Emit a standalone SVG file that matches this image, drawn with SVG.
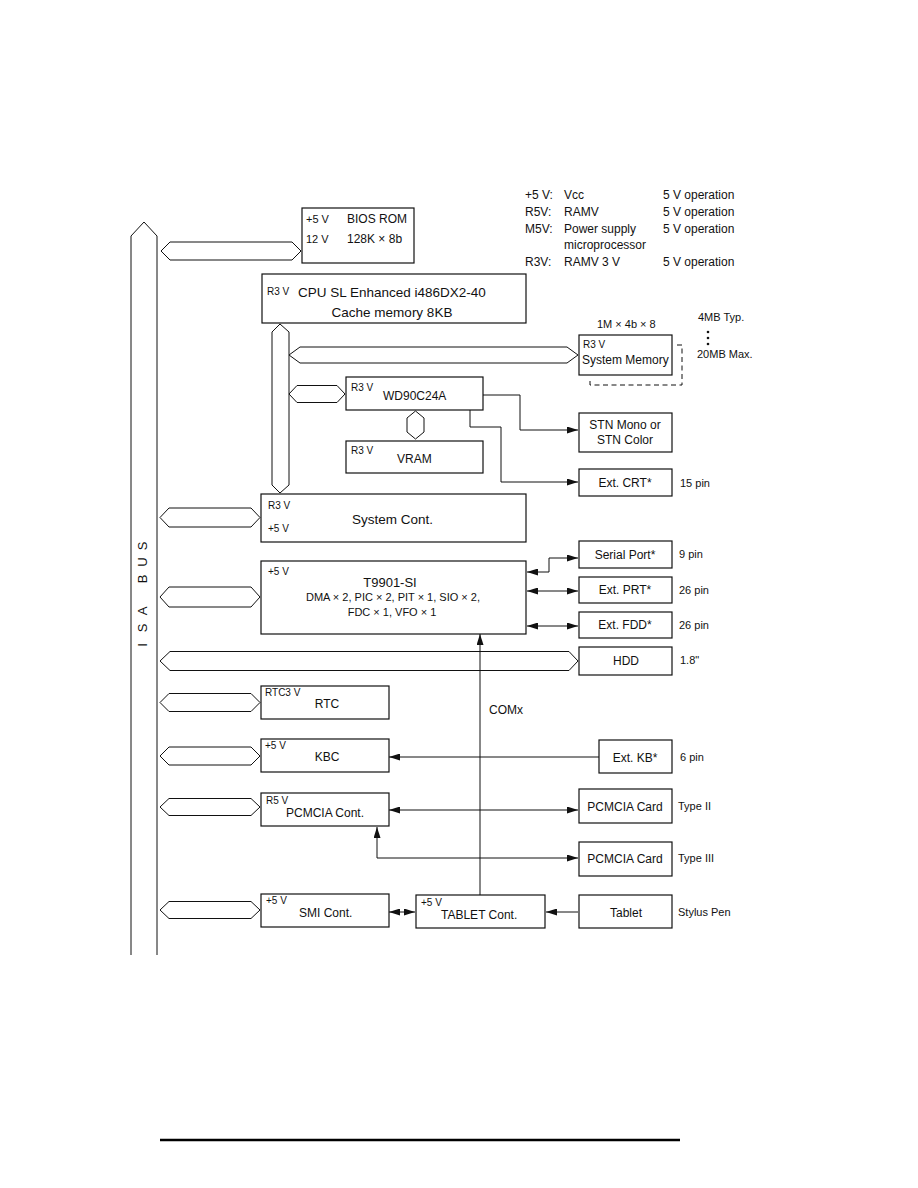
<svg xmlns="http://www.w3.org/2000/svg" width="918" height="1188" viewBox="0 0 918 1188">
<style>
text{font-family:"Liberation Sans",Arial,sans-serif;fill:#111}
.box{fill:#fff;stroke:#111;stroke-width:1.2}
.bus{fill:#fff;stroke:#111;stroke-width:1}
.ln{fill:none;stroke:#111;stroke-width:1}
.m{font-size:12px}
.s{font-size:10px}
.l{font-size:11px}
.c{text-anchor:middle}
</style>
<defs>
<marker id="ah" markerUnits="userSpaceOnUse" markerWidth="11" markerHeight="7" refX="11" refY="3.5" orient="auto-start-reverse">
<path d="M0,0 L11,3.5 L0,7 z" fill="#111"/>
</marker>
</defs>
<rect width="918" height="1188" fill="#fff"/>

<g id="isa-bus">
<path class="ln" d="M131,955 L131,236 L144,222 L157,236 L157,955"/>
<text class="c" style="font-size:13px" transform="rotate(-90)" x="-645 -628 -611 -579 -562 -546" y="147">ISABUS</text>
</g>

<g id="legend" class="m">
<text x="525" y="199">+5 V:</text><text x="564" y="199">Vcc</text><text x="663" y="199">5 V operation</text>
<text x="525" y="216">R5V:</text><text x="564" y="216">RAMV</text><text x="663" y="216">5 V operation</text>
<text x="525" y="233">M5V:</text><text x="564" y="233">Power supply</text><text x="663" y="233">5 V operation</text>
<text x="564" y="249">microprocessor</text>
<text x="525" y="266">R3V:</text><text x="564" y="266">RAMV 3 V</text><text x="663" y="266">5 V operation</text>
</g>

<g id="connectors">
<polygon class="bus" points="161,251 170,242 292,242 301,251 292,260 170,260"/>
<polygon class="bus" points="280,324 289,332 289,485 280,493 272,485 272,332"/>
<polygon class="bus" points="289,355 300,347 567,347 578,355 567,363 300,363"/>
<polygon class="bus" points="289,394 297,385.5 337,385.5 345,394 337,402.5 297,402.5"/>
<polygon class="bus" points="415.5,411 424,418 424,432 415.5,439 407,432 407,418"/>
<polygon class="bus" points="160,517.5 169,508 251,508 260,517.5 251,527 169,527"/>
<polygon class="bus" points="160,597 169,587 251,587 260,597 251,607 169,607"/>
<polygon class="bus" points="160,661 170,651.5 569,651.5 578,661 569,670.5 170,670.5"/>
<polygon class="bus" points="160,702.5 169,693.5 251,693.5 260,702.5 251,711.5 169,711.5"/>
<polygon class="bus" points="160,756 169,747 251,747 260,756 251,765 169,765"/>
<polygon class="bus" points="160,807 169,798.5 251,798.5 260,807 251,815.5 169,815.5"/>
<polygon class="bus" points="160,910 169,901.5 251,901.5 260,910 251,918.5 169,918.5"/>
<!-- WD90C24A to STN -->
<path class="ln" d="M483,395 H520 V430 H578" marker-end="url(#ah)"/>
<!-- WD90C24A to CRT -->
<path class="ln" d="M470,410 V427 H501 V482 H578" marker-end="url(#ah)"/>
<!-- dashed memory expansion -->
<path class="ln" d="M677,345 H682 V385 H590 V379" stroke-dasharray="5,3.5"/>
<!-- T9901 to ports -->
<path class="ln" d="M527,572 H549 V558 H578" marker-start="url(#ah)" marker-end="url(#ah)"/>
<path class="ln" d="M527,591 H578" marker-start="url(#ah)" marker-end="url(#ah)"/>
<path class="ln" d="M527,626 H578" marker-start="url(#ah)" marker-end="url(#ah)"/>
<!-- COMx -->
<path class="ln" d="M480,895 V634" marker-end="url(#ah)"/>
<!-- Ext KB to KBC -->
<path class="ln" d="M599,757 H389" marker-end="url(#ah)"/>
<!-- PCMCIA -->
<path class="ln" d="M389,810 H578" marker-start="url(#ah)" marker-end="url(#ah)"/>
<path class="ln" d="M377,827 V858 H578" marker-start="url(#ah)" marker-end="url(#ah)"/>
<!-- SMI / TABLET / Tablet -->
<path class="ln" d="M389,912 H415" marker-start="url(#ah)" marker-end="url(#ah)"/>
<path class="ln" d="M578,912 H546" marker-end="url(#ah)"/>
</g>

<g id="bios-rom">
<rect class="box" x="302" y="208" width="112" height="55"/>
<text class="l" x="306" y="223">+5 V</text><text class="m" x="347" y="223">BIOS ROM</text>
<text class="l" x="306" y="243">12 V</text><text class="m" x="347" y="243">128K × 8b</text>
</g>

<g id="cpu">
<rect class="box" x="262" y="274" width="264" height="49"/>
<text class="s" x="267" y="295">R3 V</text>
<text style="font-size:13.5px" x="298" y="297">CPU SL Enhanced i486DX2-40</text>
<text style="font-size:13.5px" class="c" x="392" y="317">Cache memory 8KB</text>
</g>

<g id="system-memory">
<text class="l" x="597" y="328">1M × 4b × 8</text>
<rect class="box" x="579" y="335" width="93" height="40"/>
<text class="s" x="583" y="348">R3 V</text>
<text class="m" x="582" y="364">System Memory</text>
<text class="l" x="698" y="321">4MB Typ.</text>
<circle cx="708" cy="332" r="1.3" fill="#111"/><circle cx="708" cy="338" r="1.3" fill="#111"/><circle cx="708" cy="344" r="1.3" fill="#111"/>
<text class="l" x="697" y="358">20MB Max.</text>
</g>

<g id="wd90c24a">
<rect class="box" x="346" y="377" width="137" height="33"/>
<text class="s" x="351" y="391">R3 V</text>
<text class="m" x="383" y="400">WD90C24A</text>
</g>

<g id="vram">
<rect class="box" x="346" y="441" width="137" height="32"/>
<text class="s" x="351" y="454">R3 V</text>
<text class="m" x="397" y="463">VRAM</text>
</g>

<g id="stn">
<rect class="box" x="579" y="413" width="93" height="39"/>
<text class="m c" x="625" y="429">STN Mono or</text>
<text class="m c" x="625" y="444">STN Color</text>
</g>

<g id="ext-crt">
<rect class="box" x="579" y="469" width="93" height="27"/>
<text class="m c" x="625" y="487">Ext. CRT*</text>
<text class="l" x="680" y="487">15 pin</text>
</g>

<g id="system-cont">
<rect class="box" x="261" y="494" width="265" height="48"/>
<text class="s" x="268" y="509">R3 V</text>
<text class="s" x="268" y="532">+5 V</text>
<text style="font-size:13.5px" x="352" y="524">System Cont.</text>
</g>

<g id="t9901">
<rect class="box" x="261" y="561" width="265" height="73"/>
<text class="s" x="268" y="575">+5 V</text>
<text style="font-size:13px" class="c" x="390" y="587">T9901-SI</text>
<text class="l c" x="393" y="601">DMA × 2, PIC × 2, PIT × 1, SIO × 2,</text>
<text class="l c" x="392" y="616">FDC × 1, VFO × 1</text>
</g>

<g id="serial-port">
<rect class="box" x="579" y="541" width="93" height="27"/>
<text class="m c" x="625" y="559">Serial Port*</text>
<text class="l" x="679" y="558">9 pin</text>
</g>

<g id="ext-prt">
<rect class="box" x="579" y="577" width="93" height="26"/>
<text class="m c" x="625" y="594">Ext. PRT*</text>
<text class="l" x="679" y="594">26 pin</text>
</g>

<g id="ext-fdd">
<rect class="box" x="579" y="612" width="93" height="26"/>
<text class="m c" x="625" y="629">Ext. FDD*</text>
<text class="l" x="679" y="629">26 pin</text>
</g>

<g id="hdd">
<rect class="box" x="579" y="647" width="93" height="28"/>
<text class="m c" x="626" y="665">HDD</text>
<text class="l" x="680" y="664">1.8"</text>
</g>

<g id="rtc">
<rect class="box" x="261" y="686" width="128" height="33"/>
<text class="s" x="265" y="696">RTC3 V</text>
<text class="m c" x="327" y="708">RTC</text>
</g>

<text id="comx-label" class="m" x="489" y="714">COMx</text>

<g id="kbc">
<rect class="box" x="261" y="739" width="128" height="33"/>
<text class="s" x="265" y="749">+5 V</text>
<text class="m c" x="327" y="761">KBC</text>
</g>

<g id="ext-kb">
<rect class="box" x="599" y="740" width="73" height="33"/>
<text class="m c" x="635" y="762">Ext. KB*</text>
<text class="l" x="680" y="761">6 pin</text>
</g>

<g id="pcmcia-cont">
<rect class="box" x="261" y="793" width="128" height="33"/>
<text class="s" x="266" y="804">R5 V</text>
<text class="m" x="286" y="817">PCMCIA Cont.</text>
</g>

<g id="pcmcia-card-2">
<rect class="box" x="579" y="789" width="93" height="34"/>
<text class="m c" x="625" y="811">PCMCIA Card</text>
<text class="l" x="678" y="810">Type II</text>
</g>

<g id="pcmcia-card-3">
<rect class="box" x="579" y="842" width="93" height="34"/>
<text class="m c" x="625" y="863">PCMCIA Card</text>
<text class="l" x="678" y="862">Type III</text>
</g>

<g id="smi-cont">
<rect class="box" x="261" y="894" width="128" height="33"/>
<text class="s" x="266" y="904">+5 V</text>
<text class="m" x="299" y="917">SMI Cont.</text>
</g>

<g id="tablet-cont">
<rect class="box" x="416" y="895" width="129" height="33"/>
<text class="s" x="421" y="906">+5 V</text>
<text class="m" x="441" y="919">TABLET Cont.</text>
</g>

<g id="tablet">
<rect class="box" x="579" y="895" width="93" height="33"/>
<text class="m c" x="626" y="917">Tablet</text>
<text class="l" x="678" y="916">Stylus Pen</text>
</g>

<line x1="160" y1="1140" x2="680" y2="1140" stroke="#000" stroke-width="2.5"/>
</svg>
